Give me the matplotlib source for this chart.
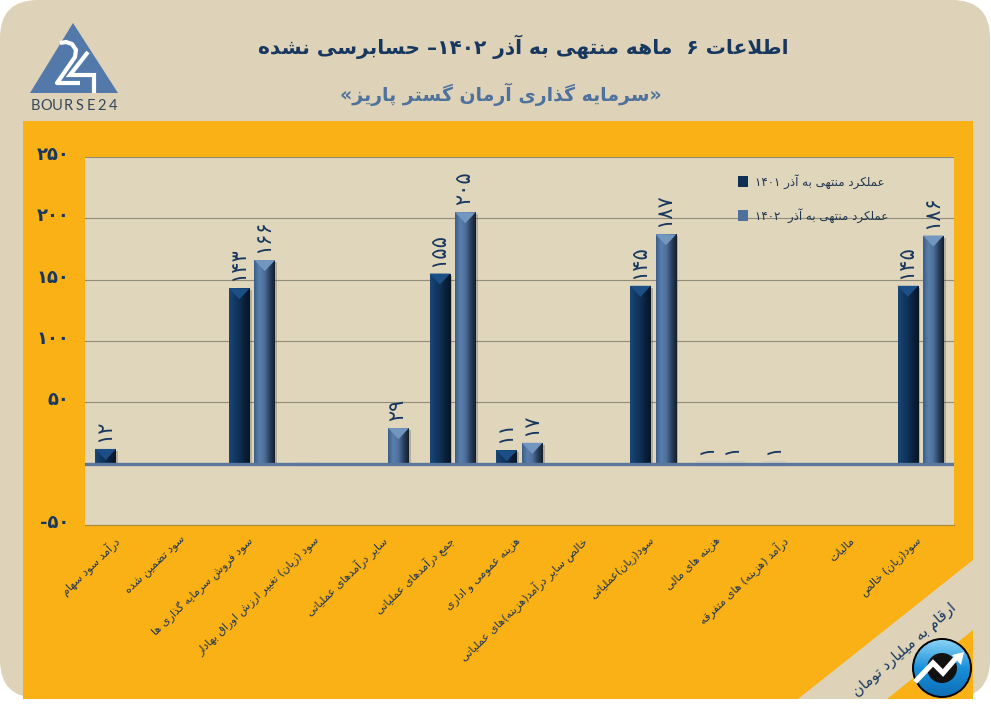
import numpy as np
import matplotlib
matplotlib.use('Agg')
import matplotlib.pyplot as plt
import matplotlib.patheffects as pe
from matplotlib.colors import LinearSegmentedColormap
from matplotlib.patches import Circle, FancyBboxPatch, Polygon, Rectangle
from matplotlib.transforms import ScaledTranslation

# chart data
categories = [
    'درآمد سود سهام', 'سود تضمین شده', 'سود فروش سرمایه گذاری ها',
    'سود (زیان) تغییر ارزش اوراق بهادار', 'سایر درآمدهای عملیاتی',
    'جمع درآمدهای عملیاتی', 'هزینه عمومی و اداری',
    'خالص سایر درآمد(هزینه)های عملیاتی', 'سود(زیان)عملیاتی', 'هزینه های مالی',
    'درآمد (هزینه) های متفرقه', 'مالیات', 'سود(زیان) خالص',
]
values_1401 = [12, None, 143, 0.5, None, 155, 11, None, 145, 1, 1, None, 145]
values_1402 = [None, None, 166, None, 29, 205, 17, None, 187, 1, None, None, 186]
labels_1401 = ['۱۲', '', '۱۴۳', '', '', '۱۵۵', '۱۱', '', '۱۴۵', '۱', '۱', '', '۱۴۵']
labels_1402 = ['', '', '۱۶۶', '', '۲۹', '۲۰۵', '۱۷', '', '۱۸۷', '۱', '', '', '۱۸۶']
y_ticks = [-50, 0, 50, 100, 150, 200, 250]
y_tick_labels = ['-۵۰', '', '۵۰', '۱۰۰', '۱۵۰', '۲۰۰', '۲۵۰']
legend_labels = ['عملکرد منتهی به آذر ۱۴۰۱', 'عملکرد منتهی به آذر  ۱۴۰۲']
title = 'اطلاعات ۶  ماهه منتهی به آذر ۱۴۰۲– حسابرسی نشده'
subtitle = '«سرمایه گذاری آرمان گستر پاریز»'
unit_note = 'ارقام به میلیارد تومان'

NAVY = '#17375e'
STEEL = '#4f729c'
BEIGE = '#ded3b9'
ORANGE = '#fab116'

# matplotlib has no arabic shaping, so pick the joined glyphs by hand
FORMS = {
    'ا': 0xFE8D, 'آ': 0xFE81, 'ب': 0xFE8F, 'پ': 0xFB56, 'ت': 0xFE95, 'ج': 0xFE9D,
    'ح': 0xFEA1, 'خ': 0xFEA5, 'د': 0xFEA9, 'ذ': 0xFEAB, 'ر': 0xFEAD, 'ز': 0xFEAF,
    'س': 0xFEB1, 'ش': 0xFEB5, 'ص': 0xFEB9, 'ض': 0xFEBD, 'ط': 0xFEC1, 'ع': 0xFEC9,
    'غ': 0xFECD, 'ف': 0xFED1, 'ق': 0xFED5, 'ک': 0xFB8E, 'گ': 0xFB92, 'ل': 0xFEDD,
    'م': 0xFEE1, 'ن': 0xFEE5, 'و': 0xFEED, 'ه': 0xFEE9, 'ی': 0xFBFC,
}
RIGHT_ONLY = set('اآدذرزو')
MIRROR = {'(': ')', ')': '(', '«': '»', '»': '«'}


def shape(text):
    out = []
    i = 0
    n = len(text)
    while i < n:
        c = text[i]
        if c not in FORMS:
            out.append(MIRROR.get(c, c))
            i += 1
            continue
        prev = text[i - 1] if i else ''
        joins_prev = prev in FORMS and prev not in RIGHT_ONLY
        # lam + alef is one glyph
        if c == 'ل' and i + 1 < n and text[i + 1] in 'اآ':
            base = 0xFEFB if text[i + 1] == 'ا' else 0xFEF5
            out.append(chr(base + (1 if joins_prev else 0)))
            i += 2
            continue
        nxt = text[i + 1] if i + 1 < n else ''
        joins_next = c not in RIGHT_ONLY and nxt in FORMS
        if joins_prev and joins_next:
            off = 3
        elif joins_next:
            off = 2
        elif joins_prev:
            off = 1
        else:
            off = 0
        out.append(chr(FORMS[c] + off))
        i += 1
    # visual order, but digit runs stay left to right
    vis = out[::-1]
    res = []
    run = []
    for c in vis:
        if '۰' <= c <= '۹':
            run.append(c)
        else:
            res.extend(run[::-1])
            run = []
            res.append(c)
    res.extend(run[::-1])
    return ''.join(res)


plt.rcParams['font.family'] = ['DejaVu Sans']

fig = plt.figure(figsize=(9.91, 7.18), dpi=100, facecolor='white')

# page decoration, in pixel coordinates
bg = fig.add_axes([0, 0, 1, 1], zorder=0)
bg.set_xlim(0, 991)
bg.set_ylim(718, 0)
bg.axis('off')
bg.add_patch(FancyBboxPatch((0, 0), 990, 698, boxstyle='round,pad=0,rounding_size=38',
                            fc=BEIGE, ec='none'))
bg.add_patch(Rectangle((23, 121), 950, 578, fc=ORANGE, ec='none'))
bg.add_patch(Polygon([(973, 560), (973, 630), (887, 699), (798, 699)], fc=BEIGE, ec='none'))

# bourse24 logo
bg.add_patch(Polygon([(73, 23), (30, 93), (118, 93)], fc='#5279a9', ec='none'))
bg.plot([60, 66, 72, 76, 75, 57, 80], [43, 42, 44, 50, 57, 83, 83], color='white', lw=3,
        solid_capstyle='butt', solid_joinstyle='round')
bg.plot([88, 70, 94, 94], [52, 75, 75, 93], color='white', lw=3, solid_capstyle='butt',
        solid_joinstyle='miter')
for lx, ch in zip(np.linspace(35, 113, 8), 'BOURSE24'):
    bg.text(lx, 106, ch, fontsize=10.5, color='#33475b', ha='center', va='center', family='Lato')

bg.text(523, 47, shape(title), fontsize=14.5, fontweight='bold', color=NAVY, ha='center', va='center')
bg.text(501, 94, shape(subtitle), fontsize=13.6, fontweight='bold', color=STEEL, ha='center', va='center')
bg.text(905, 650, shape(unit_note), fontsize=10.6, color=NAVY, ha='center', va='center', rotation=41.5)

# round badge in the corner
grad = np.linspace(0, 1, 64).reshape(-1, 1)
badge = bg.imshow(grad, extent=(913, 971, 697, 639),
                  cmap=LinearSegmentedColormap.from_list('badge', ['#8ad4f5', '#1a90da', '#0d6db5']),
                  aspect='auto', zorder=3)
circle = Circle((942, 668), 29, fc='none', ec='black', lw=1.4, zorder=5)
bg.add_patch(circle)
badge.set_clip_path(circle)
bg.set_xlim(0, 991)
bg.set_ylim(718, 0)
bg.add_patch(Circle((942, 668), 15, fc='#111111', ec='none', zorder=4))
bg.plot([915, 933, 943, 956], [682, 663, 673, 658], color='white', lw=3.8, zorder=6,
        solid_joinstyle='miter', solid_capstyle='butt')
bg.add_patch(Polygon([(964, 652), (952, 655), (961, 665)], fc='white', ec='none', zorder=6))

# main plot, 85..954 x 157..525 in pixels
ax = fig.add_axes([85 / 991, 1 - 525 / 718, 869 / 991, 368 / 718], zorder=2)
ax.set_facecolor('#e0d6bc')

x = np.arange(len(categories))
bar_w = 0.31
offset = 0.19


def gradient(stops):
    # horizontal shading across a bar
    cm = LinearSegmentedColormap.from_list('bar', stops)
    return cm(np.linspace(0, 1, 48)).reshape(1, 48, 4)


def draw_series(xs, values, labels, stops, cap):
    shade = gradient(stops)
    for xi, v, lab in zip(xs, values, labels):
        if v is None:
            continue
        if v <= 1:
            # these only show as a pale smear around the zero line
            ax.bar(xi, v, bar_w, color='#d3cebd', ec='#d3cebd', lw=2.2, zorder=2.5)
        else:
            shadow = [pe.SimplePatchShadow(offset=(1.5, -1.5), alpha=0.28, shadow_rgbFace='#444444')]
            rect = ax.bar(xi, v, bar_w, color=stops[1], zorder=3, path_effects=shadow)[0]
            im = ax.imshow(shade, extent=(xi - bar_w / 2, xi + bar_w / 2, 0, v), aspect='auto', zorder=3.1)
            im.set_clip_path(rect)
            # bevelled cap on top of the bar
            cap_h = min(v, 9)
            ax.fill([xi - bar_w / 2, xi + bar_w / 2, xi], [v, v, v - cap_h], color=cap, zorder=3.2, lw=0)
        if lab:
            ax.annotate(lab, (xi, v), xytext=(-1, 5), textcoords='offset points', rotation=90,
                        ha='center', va='bottom', fontsize=15, color=NAVY, zorder=5)


stops_1401 = ['#1a4775', '#123a66', '#0f2f53', '#0a1f38', '#081626']
stops_1402 = ['#3a5f8c', '#5a7faa', '#4d709c', '#2a415f', '#141f2c']
draw_series(x - offset, values_1401, labels_1401, stops_1401, '#1b4f85')
draw_series(x + offset, values_1402, labels_1402, stops_1402, '#7396bf')

ax.axhline(0, color='#5b789c', lw=2.4, zorder=4)
ax.set_xlim(-0.5, len(categories) - 0.5)
ax.set_ylim(-50, 250)
ax.set_yticks(y_ticks)
ax.set_yticklabels(y_tick_labels, fontsize=13, fontweight='bold', color=NAVY)
ax.set_xticks(x)
ax.set_xticklabels([shape(c) for c in categories], rotation=44, ha='right', rotation_mode='anchor',
                   fontsize=8, color='#1f3550')
ax.tick_params(axis='both', length=0)
ax.tick_params(axis='y', pad=11)
ax.tick_params(axis='x', pad=7)
for t in ax.get_yticklabels():
    t.set_transform(t.get_transform() + ScaledTranslation(0, 4 / 100, fig.dpi_scale_trans))
for t in ax.get_xticklabels():
    t.set_transform(t.get_transform() + ScaledTranslation(-5 / 100, 0, fig.dpi_scale_trans))
ax.yaxis.grid(True, color='#8f8d78', lw=0.8, zorder=1)
ax.set_axisbelow(True)
for side in ['top', 'right', 'left']:
    ax.spines[side].set_visible(False)
ax.spines['bottom'].set_color('#a98a3a')

handles = [Rectangle((0, 0), 1, 1, fc=stops_1401[2]), Rectangle((0, 0), 1, 1, fc=stops_1402[2])]
ax.legend(handles, [shape(t) for t in legend_labels], loc='upper left',
          bbox_to_anchor=(0.744, 0.97), frameon=False, fontsize=8.6, labelcolor='#1f3550',
          handlelength=0.85, handleheight=1.0, labelspacing=1.6, handletextpad=0.6, borderpad=0)

fig.savefig('out.png', dpi=100)
